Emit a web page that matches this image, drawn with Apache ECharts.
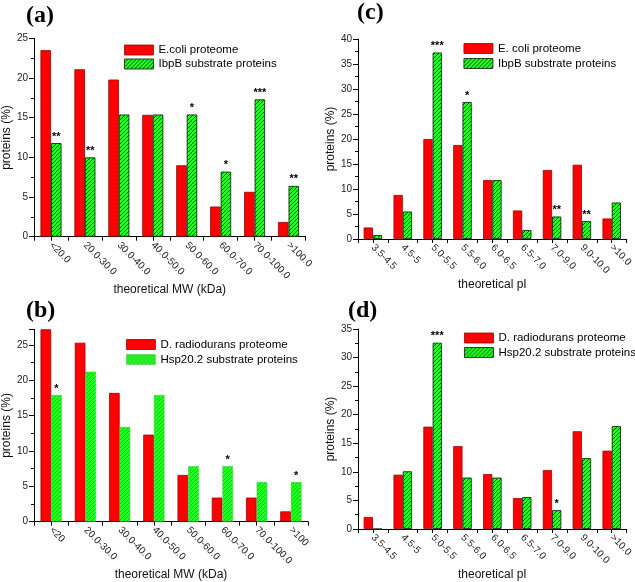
<!DOCTYPE html>
<html>
<head>
<meta charset="utf-8">
<script src="https://cdn.jsdelivr.net/npm/echarts@6/dist/echarts.min.js"></script>
<style>
html,body{margin:0;padding:0;background:#fff;}
#chart{width:635px;height:582px;}
</style>
</head>
<body>
<div id="chart"></div>
<script>
// ---- data ----
const mwCatsA = ['<20.0','20.0-30.0','30.0-40.0','40.0-50.0','50.0-60.0','60.0-70.0','70.0-100.0','>100.0'];
const mwCatsB = ['<20','20.0-30.0','30.0-40.0','40.0-50.0','50.0-60.0','60.0-70.0','70.0-100.0','>100'];
const piCats = ['3.5-4.5','4.5-5','5.0-5.5','5.5-6.0','6.0-6.5','6.5-7.0','7.0-9.0','9.0-10.0','>10.0'];

const aProteome = [23.5, 21.1, 19.8, 15.35, 9.0, 3.8, 5.65, 1.85];
const aSubstrate = [11.8, 10.0, 15.4, 15.4, 15.4, 8.2, 17.3, 6.4];
const aSig = ['**','**','','','*','*','***','**'];

const bProteome = [27.2, 25.3, 18.2, 12.3, 6.6, 3.4, 3.4, 1.45];
const bSubstrate = [17.9, 21.2, 13.4, 17.9, 7.85, 7.85, 5.6, 5.6];
const bSig = ['*','','','','','*','','*'];

const cProteome = [2.3, 8.8, 20.0, 18.8, 11.8, 5.7, 13.8, 14.85, 4.1];
const cSubstrate = [0.8, 5.5, 37.3, 27.4, 11.8, 1.8, 4.5, 3.6, 7.3];
const cSig = ['','','***','*','','','**','**',''];

const dProteome = [2.1, 9.5, 17.9, 14.5, 9.6, 5.4, 10.3, 17.1, 13.7];
const dSubstrate = [0, 10.1, 32.6, 9.0, 9.0, 5.6, 3.3, 12.4, 18.0];
const dSig = ['','','***','','','','*','',''];

const yMaxes = [25, 27.2, 40, 35];

// ---- styles ----
function hatch(bg, line, lw) {
  const s = 4;
  const c = document.createElement('canvas');
  c.width = s; c.height = s;
  const g = c.getContext('2d');
  g.fillStyle = bg; g.fillRect(0, 0, s, s);
  g.strokeStyle = line; g.lineWidth = lw;
  g.beginPath();
  g.moveTo(-1, s + 1); g.lineTo(s + 1, -1);
  g.moveTo(-1, 1); g.lineTo(1, -1);
  g.moveTo(s - 1, s + 1); g.lineTo(s + 1, s - 1);
  g.stroke();
  return { image: c, repeat: 'repeat' };
}
const redStyle = { color: '#ff0000', borderColor: '#9a0000', borderWidth: 0.8 };
const greenDark = { color: hatch('#22ff22', '#104010', 0.9), borderColor: '#1a2a1a', borderWidth: 0.9 };
const greenLight = { color: hatch('#22ff22', '#2f9a2f', 0.7), borderColor: '#44cc44', borderWidth: 0.6 };

const FONT = 'Liberation Sans';
const grids = [
  { left: 30.5, top: 38.3, width: 275, height: 198.4 },
  { left: 32, top: 329.3, width: 276, height: 203.2 },
  { left: 358, top: 39, width: 274, height: 200 },
  { left: 358, top: 329, width: 274, height: 200 }
];
const cats = [mwCatsA, mwCatsB, piCats, piCats];
const xNames = ['theoretical MW (kDa)', 'theoretical MW (kDa)', 'theoretical pI', 'theoretical pI'];
const xNameGaps = [35, 36, 33, 33];

const xAxis = [], yAxis = [];
for (let i = 0; i < 4; i++) {
  xAxis.push({
    type: 'category', gridIndex: i, data: cats[i], position: 'bottom',
    boundaryGap: true,
    axisLine: { show: true, lineStyle: { color: '#000', width: 1 } },
    axisTick: { show: true, inside: false, length: 4, lineStyle: { color: '#000' } },
    axisLabel: { rotate: -45, fontSize: 10, fontFamily: FONT, color: '#222', margin: 7, interval: 0 },
    name: xNames[i], nameLocation: 'middle', nameGap: xNameGaps[i],
    nameTextStyle: { fontSize: 12, fontFamily: FONT, color: '#111' }
  });
}
for (let i = 0; i < 4; i++) {
  xAxis.push({
    type: 'category', gridIndex: i, data: cats[i], position: 'bottom',
    boundaryGap: true,
    axisLine: { show: false },
    axisTick: { show: true, alignWithLabel: true, length: 4, lineStyle: { color: '#000' } },
    axisLabel: { show: false }, splitLine: { show: false }
  });
}
for (let i = 0; i < 4; i++) {
  yAxis.push({
    type: 'value', gridIndex: i, min: 0, max: yMaxes[i], interval: 5,
    axisLine: { show: true, lineStyle: { color: '#000', width: 1 } },
    axisTick: { show: true, inside: false, length: 5, lineStyle: { color: '#000' } },
    minorTick: { show: true, splitNumber: 2, length: 3, lineStyle: { color: '#000' } },
    splitLine: { show: false },
    axisLabel: { fontSize: 10, fontFamily: FONT, color: '#222', margin: 6,
      formatter: v => (Math.abs(v % 5) < 1e-9 ? String(v) : '') },
    name: 'proteins (%)', nameLocation: 'middle', nameGap: 20,
    nameTextStyle: { fontSize: 12, fontFamily: FONT, color: '#111' }
  });
}

const panelData = [
  ['E.coli proteome', 'IbpB substrate proteins', aProteome, aSubstrate, aSig, greenDark],
  ['D. radiodurans proteome', 'Hsp20.2 substrate proteins', bProteome, bSubstrate, bSig, greenLight],
  ['E. coli proteome', 'IbpB substrate proteins', cProteome, cSubstrate, cSig, greenDark],
  ['D. radiodurans proteome', 'Hsp20.2 substrate proteins', dProteome, dSubstrate, dSig, greenDark]
];
const series = [];
panelData.forEach((p, i) => {
  series.push({
    type: 'bar', name: p[0], xAxisIndex: i, yAxisIndex: i, data: p[2],
    barWidth: '31%', barGap: '0%', itemStyle: redStyle
  });
  const sig = p[4];
  series.push({
    type: 'bar', name: p[1], xAxisIndex: i, yAxisIndex: i, data: p[3],
    barWidth: '31%', barGap: '0%', itemStyle: p[5],
    label: { show: true, position: 'top', distance: 1, fontSize: 11, fontWeight: 'bold',
      fontFamily: FONT, color: '#000', formatter: q => sig[q.dataIndex] }
  });
});

const legendPos = [
  { left: 124, top: 44, gap: 2 },
  { left: 126, top: 338.5, gap: 3 },
  { left: 463.5, top: 42.5, gap: 3 },
  { left: 464, top: 332, gap: 2.5 }
];
const legend = panelData.map((p, i) => ({
  orient: 'vertical', left: legendPos[i].left, top: legendPos[i].top,
  padding: 0, itemWidth: 29, itemHeight: 10, itemGap: legendPos[i].gap, icon: 'rect', selectedMode: false,
  textStyle: { fontSize: 11.5, fontFamily: FONT, color: '#000' },
  data: [
    { name: p[0], icon: 'rect', itemStyle: redStyle },
    { name: p[1], icon: 'rect', itemStyle: p[5] }
  ]
}));

const titleStyle = { fontFamily: 'Liberation Serif', fontWeight: 'bold', fontSize: 24, color: '#000' };
const title = [
  { text: '(a)', left: 26, top: 4, padding: 0, textStyle: titleStyle },
  { text: '(b)', left: 26, top: 299, padding: 0, textStyle: titleStyle },
  { text: '(c)', left: 357, top: 1, padding: 0, textStyle: titleStyle },
  { text: '(d)', left: 348, top: 299, padding: 0, textStyle: titleStyle }
];

const chart = echarts.init(document.getElementById('chart'), null, { renderer: 'canvas' });
chart.setOption({
  animation: false,
  backgroundColor: '#fff',
  title: title,
  legend: legend,
  grid: grids,
  xAxis: xAxis,
  yAxis: yAxis,
  series: series
});
</script>
</body>
</html>
